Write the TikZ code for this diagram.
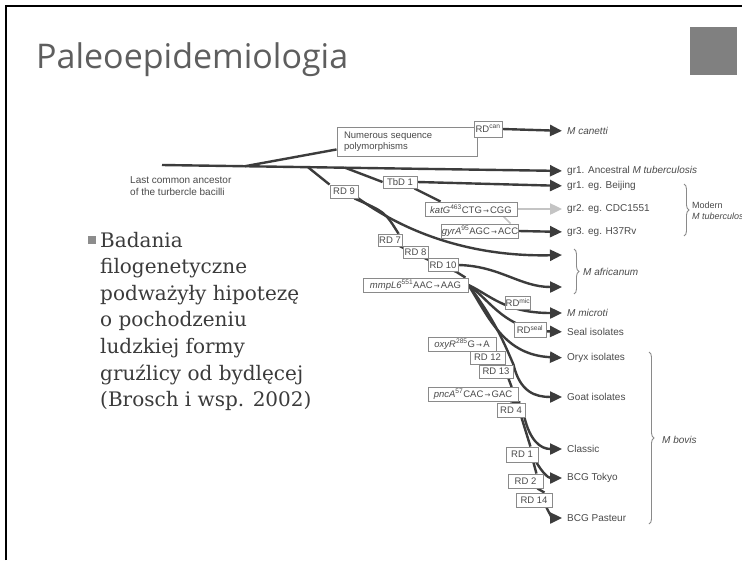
\documentclass[tikz,border=0pt]{standalone}
\usepackage{fontspec}
\setmainfont{DejaVu Serif}
\newfontfamily\titlefont{Open Sans}
\newfontfamily\labfont{Liberation Sans}
\newfontfamily\symfont{DejaVu Sans}
\usetikzlibrary{arrows.meta,decorations.pathreplacing}
\definecolor{linec}{HTML}{3C3C3C}
\definecolor{boxc}{HTML}{8A8A8A}
\definecolor{labc}{HTML}{4A4A4A}
\definecolor{lightc}{HTML}{C4C4C4}
\definecolor{titlec}{HTML}{5E5E5E}
\definecolor{bodyc}{HTML}{3B3B3B}
\definecolor{sqc}{HTML}{808080}
\definecolor{bulc}{HTML}{8C8C8C}
\newcommand{\myarr}{{\symfont\fontsize{7}{8}\selectfont\,→\,}}
\pgfdeclarelayer{bg}
\pgfsetlayers{bg,main}
\begin{document}
\begin{tikzpicture}[x=1pt,y=-1pt,
  lin/.style={draw=linec,line width=2.4pt},
  arrc/.style={lin,-{Triangle[length=12pt,width=11pt]}},
  arr/.style={arrc,shorten >=5pt},
  rdbox/.style={draw=boxc,fill=white,line width=0.9pt,inner sep=0pt,
     font=\labfont\fontsize{9.5}{11}\selectfont,text=labc},
  lab/.style={anchor=west,inner sep=0pt,font=\labfont\fontsize{10}{12}\selectfont,text=labc},
  body/.style={anchor=base west,inner sep=0pt,font=\fontsize{20}{24}\selectfont,text=bodyc},
  brc/.style={draw=boxc,line width=0.9pt,decorate,decoration={brace,amplitude=5pt}}]
\useasboundingbox (0,0) rectangle (742,560);
\begin{pgfonlayer}{bg}
\fill[white] (0,0) rectangle (742,560);
\end{pgfonlayer}
% slide frame and corner square
\draw[line width=2.6pt,black] (6,560) -- (6,6) -- (742,6);
\fill[sqc] (690,27) rectangle (737,75);
\node[anchor=base west,inner sep=0pt,font=\titlefont\fontsize{34}{40}\selectfont,text=titlec] (title) at (36,68) {Paleoepidemiologia};
% bullet text
\node[fill=bulc,minimum size=8pt,inner sep=0pt] (bul) at (92,240) {};
\node[body] (t1) at (100,247) {Badania};
\node[body] (t2) at (100,273.6) {filogenetyczne};
\node[body] (t3) at (100,300.2) {podważyły hipotezę};
\node[body] (t4) at (100,326.8) {o pochodzeniu};
\node[body] (t5) at (100,353.4) {ludzkiej formy};
\node[body] (t6) at (100,380) {gruźlicy od bydlęcej};
\node[body] (t7) at (100,406.6) {(Brosch i wsp. 2002)};
% labels
\node[lab,anchor=north west,align=left] (lca) at (130,176) {Last common ancestor\\of the turbercle bacilli};
\node[lab] (canetti) at (567,131) {\textit{M canetti}};
\node[lab] (ancl) at (567,171) {gr1. Ancestral \textit{M tuberculosis}};
\node[lab] (beij) at (567,186) {gr1. eg. Beijing};
\node[lab] (cdc) at (567,209) {gr2. eg. CDC1551};
\node[lab] (h37) at (567,232) {gr3. eg. H37Rv};
\node[lab,align=left,font=\labfont\fontsize{9}{11.5}\selectfont] (modern) at (692,211) {Modern\\\textit{M tuberculosis}};
\node[lab] (afr) at (583,272) {\textit{M africanum}};
\node[lab] (micro) at (567,313) {\textit{M microti}};
\node[lab] (seal) at (567,332) {Seal isolates};
\node[lab] (oryx) at (567,358) {Oryx isolates};
\node[lab] (goat) at (567,397) {Goat isolates};
\node[lab] (classic) at (567,449) {Classic};
\node[lab] (tokyo) at (567,478) {BCG Tokyo};
\node[lab] (pasteur) at (567,518) {BCG Pasteur};
\node[lab] (bovis) at (662,440) {\textit{M bovis}};
% boxes
\node[rdbox,minimum width=140pt,minimum height=29pt,text width=126pt,align=left] (num) at (407,141.5) {Numerous sequence\\polymorphisms};
\node[rdbox,minimum width=28pt,minimum height=16pt] (rdcan) at (488,129) {RD\textsuperscript{can}};
\node[rdbox,minimum width=34pt,minimum height=12pt] (tbd) at (400,182) {TbD 1};
\node[rdbox,minimum width=92pt,minimum height=14pt] (katg) at (471,209) {\textit{katG}\textsuperscript{463}CTG\myarr CGG};
\node[rdbox,minimum width=76pt,minimum height=14pt] (gyra) at (480,231) {\textit{gyrA}\textsuperscript{95}AGC\myarr ACC};
\node[rdbox,minimum width=28pt,minimum height=13pt] (rd9) at (344,191.5) {RD 9};
\node[rdbox,minimum width=24pt,minimum height=12pt] (rd7) at (390,240) {RD 7};
\node[rdbox,minimum width=25pt,minimum height=12pt] (rd8) at (415.5,252.5) {RD 8};
\node[rdbox,minimum width=30pt,minimum height=13pt] (rd10) at (443,265) {RD 10};
\node[rdbox,minimum width=105pt,minimum height=14pt] (mmp) at (415.5,285) {\textit{mmpL6}\textsuperscript{551}AAC\myarr AAG};
\node[rdbox,minimum width=24pt,minimum height=13pt] (rdmic) at (518,302.5) {RD\textsuperscript{mic}};
\node[rdbox,minimum width=32pt,minimum height=15pt] (rdseal) at (530,329.5) {RD\textsuperscript{seal}};
\node[rdbox,minimum width=68pt,minimum height=14pt] (oxyr) at (462,344) {\textit{oxyR}\textsuperscript{285}G\myarr A};
\node[rdbox,minimum width=35pt,minimum height=13pt] (rd12) at (487.5,357.5) {RD 12};
\node[rdbox,minimum width=34pt,minimum height=13pt] (rd13) at (496,371.5) {RD 13};
\node[rdbox,minimum width=90pt,minimum height=14pt] (pnca) at (473,394) {\textit{pncA}\textsuperscript{57}CAC\myarr GAC};
\node[rdbox,minimum width=28pt,minimum height=14pt] (rd4) at (511,410) {RD 4};
\node[rdbox,minimum width=32pt,minimum height=15pt] (rd1) at (522,454.5) {RD 1};
\node[rdbox,minimum width=35pt,minimum height=14pt] (rd2) at (525.5,481) {RD 2};
\node[rdbox,minimum width=36pt,minimum height=14pt] (rd14) at (534,500) {RD 14};
% free coordinates
\coordinate (lca0) at (162,165);
\coordinate (b1) at (245,166.2);
\coordinate (b2) at (308,167.2);
\coordinate (b3) at (345,167.7);
\coordinate (afr1) at (562,255);
\coordinate (afr2) at (562,287);
\coordinate (mb1) at (684,184);
\coordinate (mb2) at (684,236);
\coordinate (ab1) at (574,249);
\coordinate (ab2) at (574,294);
\coordinate (bb1) at (649,352);
\coordinate (bb2) at (649,524);
% braces
\draw[brc] (mb1) -- (mb2);
\draw[brc] (ab1) -- (ab2);
\draw[brc] (bb1) -- (bb2);
% connectors
\begin{pgfonlayer}{bg}
\draw[arr] (lca0) -- (ancl.west);
\draw[lin] (b1) -- ([yshift=7pt]num.south west);
\draw[arr] (rdcan.east) -- (canetti.west);
\draw[lin] (b3) -- (tbd.west);
\draw[arr] (tbd.east) -- (beij.west);
\draw[lin] ([xshift=-3pt]tbd.south east) -- ([xshift=16pt]katg.north west);
\draw[arr,draw=lightc] (katg.east) -- (cdc.west);
\draw[draw=lightc,line width=1.6pt] ([xshift=-14pt]katg.south east) -- ([xshift=-8pt]gyra.north east);
\draw[arr] (gyra.east) -- (h37.west);
\draw[lin] (b2) -- (rd9.north west);
\draw[arrc] (rd9.south east) .. controls (405,232) and (470,257) .. (afr1);
\draw[lin] ([xshift=-4pt]rd9.south east) .. controls (385,212) .. ([xshift=-4pt]rd7.north east);
\draw[lin] ([xshift=-4pt]rd7.north east) -- ([xshift=-2pt]rd7.south east) -- ([xshift=-2pt]rd8.south east) -- ([xshift=-2pt]rd10.south east) -- ([xshift=-3pt]mmp.north east);
\draw[arrc] (rd10.east) .. controls (500,266) and (520,287) .. (afr2);
\draw[arr] (mmp.east) .. controls (490,295) and (505,313) .. (micro.west);
\draw[arr] (mmp.east) .. controls (490,300) and (505,330) .. (seal.west);
\draw[arr] (mmp.east) .. controls (490,320) and (505,355) .. (oryx.west);
\draw[arr] (mmp.east) .. controls (495,320) and (505,345) .. (rd13.north east) .. controls (520,392) and (535,397) .. (goat.west);
\draw[lin] ([xshift=-5pt]rd13.south east) -- ([xshift=-7pt]pnca.north east) -- ([xshift=-7pt]pnca.south east) -- ([xshift=-5pt]rd4.north east);
\draw[lin] ([xshift=-4pt]rd4.south east) -- ([xshift=-8pt]rd1.north east);
\draw[arr] ([xshift=-1pt]rd4.south east) .. controls (530,440) and (540,449) .. (classic.west);
\draw[lin] ([xshift=-5pt]rd1.south east) -- ([xshift=-7pt]rd2.north east);
\draw[arr] ([xshift=-2pt]rd1.south east) .. controls (542,472) and (548,478) .. (tokyo.west);
\draw[lin] ([xshift=-6pt]rd2.south east) -- ([xshift=-8pt]rd14.north east);
\draw[arr] ([xshift=-6pt]rd14.south east) .. controls (550,515) and (553,518) .. (pasteur.west);
\end{pgfonlayer}
\end{tikzpicture}
\end{document}
